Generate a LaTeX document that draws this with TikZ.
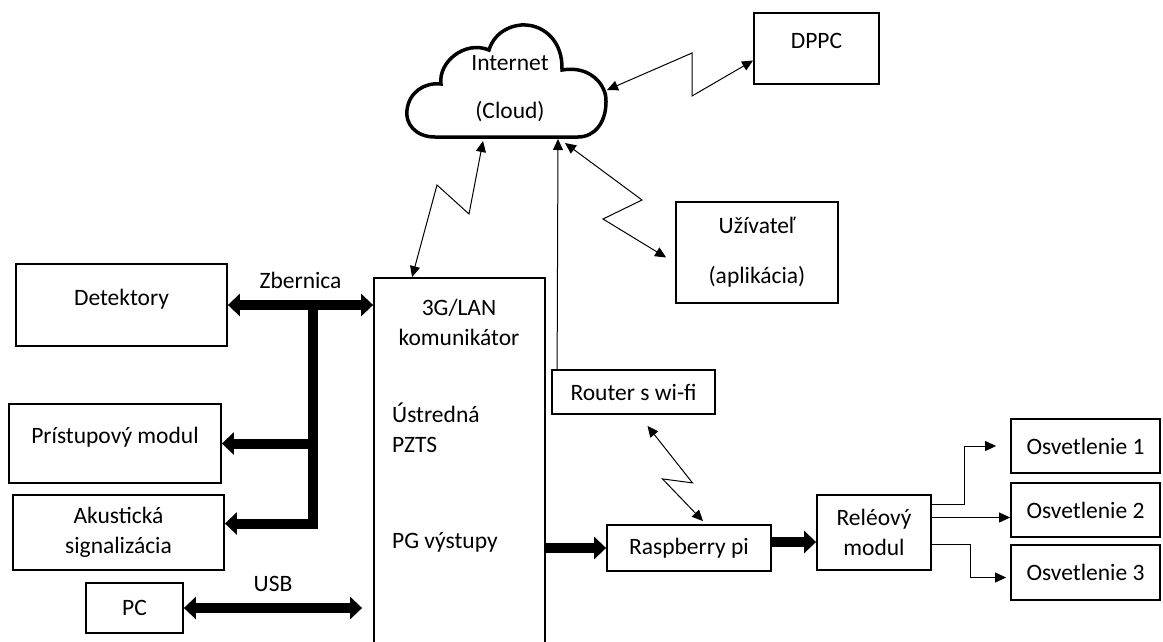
\documentclass[tikz,border=0pt]{standalone}
\usepackage{fontspec}
\setmainfont{Carlito}
\usetikzlibrary{arrows.meta}
\tikzset{
  box/.style={draw,line width=1.8pt,align=center},
  raised/.style={text height=16pt,text depth=16pt},
  bus/.style={line width=10pt,line join=miter,>={Triangle[length=12pt,width=22pt]}},
  link/.style={line width=1pt,>={Triangle[length=11pt,width=10pt]}},
}
\begin{document}
\begin{tikzpicture}[x=1pt,y=-1pt,inner sep=2pt,font=\fontsize{23.5}{30}\selectfont]
\useasboundingbox (0,0) rectangle (1163,641);
\clip (0,0) rectangle (1163,641);

\draw[line width=3.5pt] (435,137) .. controls (415,137) and (405,123) .. (407,110)
  .. controls (409,92) and (425,82) .. (441,84)
  .. controls (438,62) and (465,40) .. (489,50)
  .. controls (495,30) and (515,24) .. (526,25)
  .. controls (545,26) and (563,42) .. (562,70)
  .. controls (590,65) and (607,85) .. (606,102)
  .. controls (606,122) and (595,137) .. (578,137) -- cycle;
\node (inet) at (510,63) {Internet};
\node (cloudtxt) at (510,112) {(Cloud)};
\coordinate (cl-l) at (483,141);
\coordinate (cl-b) at (558,139);
\coordinate (cl-u) at (565,143);
\coordinate (cl-r) at (607,90);

\node[box,raised,minimum width=125,minimum height=71] (dppc) at (816.5,48.5) {DPPC};
\node[box,minimum width=162,minimum height=101] (uziv) at (757,252.5) {Užívateľ\\[20pt](aplikácia)};
\node[box,raised,minimum width=211,minimum height=82] (det) at (121.5,305) {Detektory};
\node[box,raised,minimum width=212,minimum height=79] (pri) at (115,443.5) {Prístupový modul};
\node[box,minimum width=211,minimum height=75] (aku) at (118.5,532.5) {Akustická\\signalizácia};
\node[box,minimum width=97,minimum height=50] (pc) at (134.5,608) {PC};

\node[box,minimum width=171,minimum height=422] (pzts) at (459.5,489) {};
\node[align=center] (komun) at (459,322) {3G/LAN\\komunikátor};
\node[anchor=west,align=left] (ustr) at (390,428) {Ústredná\\PZTS};
\node[anchor=west] (pg) at (390,542) {PG výstupy};

\node[box,minimum width=163,minimum height=44] (router) at (633.5,392) {Router s wi-fi};
\node[box,minimum width=164,minimum height=46] (rasp) at (689,548) {Raspberry pi};
\node[box,minimum width=114,minimum height=75] (rele) at (874,532.5) {Reléový\\modul};
\node[box,minimum width=149,minimum height=54] (osv1) at (1085.5,446) {Osvetlenie 1};
\node[box,minimum width=149,minimum height=54] (osv2) at (1085.5,510) {Osvetlenie 2};
\node[box,minimum width=149,minimum height=55] (osv3) at (1085.5,572.5) {Osvetlenie 3};

\coordinate (bus) at (313,307);
\draw[bus,<->] (det.east) -- (det.east -| pzts.west) node[midway,above=9pt] (zb) {Zbernica};
\draw[bus,->] (bus) |- ([yshift=9pt]aku.east);
\draw[bus,->] (bus |- pri.east) -- (pri.east);
\draw[bus,<->] (pc.east) -- ([xshift=-11pt]pc.east -| pzts.west) node[midway,above=9pt] (usb) {USB};
\draw[bus,->] (pzts.east |- rasp.west) -- (rasp.west);
\draw[bus,->] ([yshift=6pt]rasp.east) -- ([yshift=6pt]rasp.east -| rele.west);

\draw[link,<->] (cl-r) -- ++(85,-37) -- ++(0,43) -- ([yshift=-12pt]dppc.west);
\draw[link,<->] (cl-u) -- ++(77,57) -- ++(-39,19) -- ([xshift=-9pt,yshift=-5pt]uziv.west);
\draw[link,<->] (cl-l) -- ++(-14,73) -- ++(-32,-29) -- ([xshift=39pt]pzts.north west);
\draw[link,->] ([xshift=6pt]router.north west) -- (cl-b);
\draw[link,<->] ([xshift=14pt,yshift=-11pt]router.south) -- ++(45,57) -- ++(-30,-4) -- ([xshift=14pt,yshift=3pt]rasp.north);

\draw[link,->] ([yshift=28pt]rele.east) -- ++(33,0) |- ([xshift=-14pt]osv1.west);
\draw[link,->] ([yshift=15pt]rele.east) -- ([yshift=15pt]rele.east -| osv2.west);
\draw[link,->] ([yshift=-12pt]rele.east) -- ++(39,0) |- ([xshift=-4pt,yshift=-5pt]osv3.west);
\end{tikzpicture}
\end{document}
